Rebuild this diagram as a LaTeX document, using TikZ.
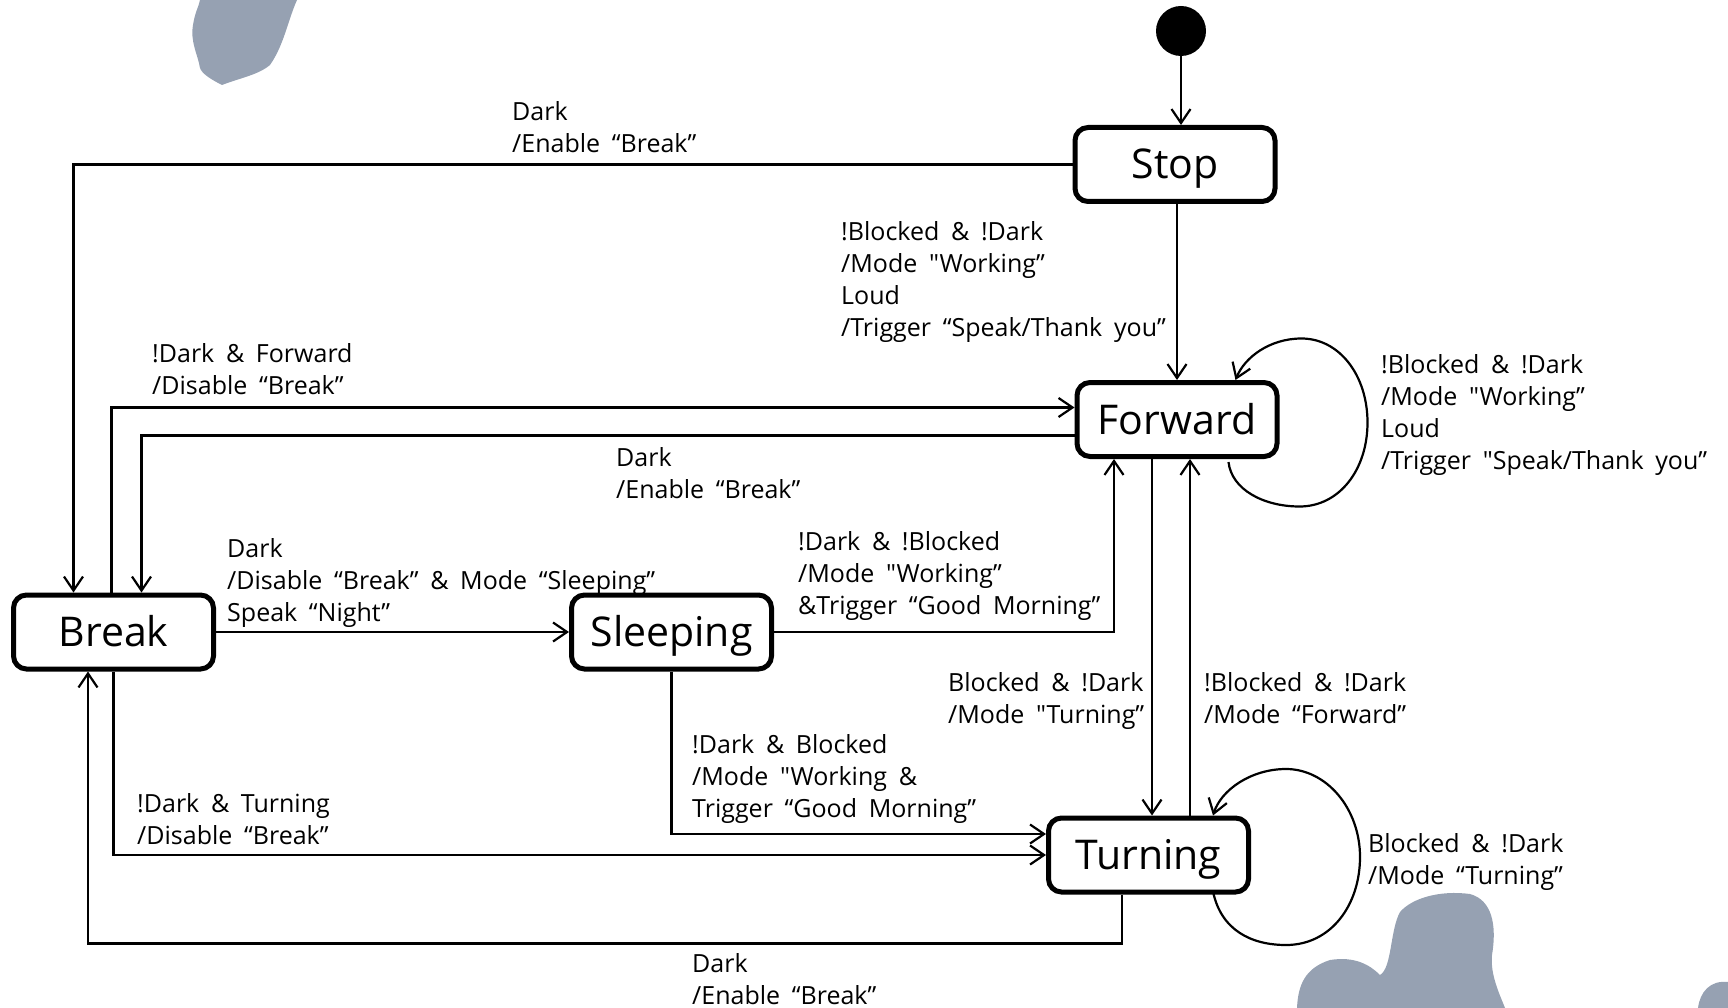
\documentclass[tikz,border=0pt]{standalone}
\usepackage{fontspec}
\setmainfont{Open Sans}[WordSpace=1.8,Ligatures=TeXOff]
\usetikzlibrary{arrows.meta,calc}
\definecolor{blot}{RGB}{150,161,178}
\begin{document}
\begin{tikzpicture}[x=1pt,y=-1pt,
  state/.style={draw,line width=5pt,rounded corners=13pt,minimum width=200pt,
    minimum height=74pt,inner sep=0pt,text height=29pt,text depth=0pt,
    font=\fontsize{41}{48}\selectfont},
  arr/.style={draw,line width=2.2pt,-{Straight Barb[length=14pt,width=19pt]}},
  lbl/.style={anchor=north west,inner sep=0pt,align=left,
    font=\fontsize{25}{32}\selectfont}]
\useasboundingbox (0,0) rectangle (1728,1008);

% ink stains
\fill[blot] (200,0) -- (297,0) .. controls (288,20) and (284,45) .. (270,65)
  .. controls (258,75) and (240,78) .. (222,85) .. controls (212,80) and (202,74) .. (200,68)
  .. controls (198,55) and (190,42) .. (193,25) .. controls (195,12) and (199,6) .. (200,0) -- cycle;
\fill[blot] (1297,1008) .. controls (1298,985) and (1305,968) .. (1330,960)
  .. controls (1355,956) and (1370,965) .. (1380,975) .. controls (1392,968) and (1390,930) .. (1400,912)
  .. controls (1412,898) and (1440,890) .. (1470,894) .. controls (1492,900) and (1497,925) .. (1492,955)
  .. controls (1490,975) and (1500,995) .. (1505,1008) -- cycle;
\fill[blot] (1698,1008) .. controls (1700,992) and (1710,980) .. (1728,982) -- (1728,1008) -- cycle;

% states
\node[circle,fill,inner sep=0pt,minimum size=50pt] (start) at (1181,31) {};
\node[state] (stop) at (1175,164.5) {Stop};
\node[state] (fwd)  at (1177,419.5) {Forward};
\node[state] (brk)  at (113.5,632)  {Break};
\node[state] (slp)  at (671.5,632)  {Sleeping};
\node[state] (trn)  at (1148.5,855) {Turning};

% transitions
\draw[arr] (start) -- (start |- stop.north);
\draw[arr] (stop.west) -| ($(brk.north)+(-40,0)$);
\draw[arr] (fwd.north |- stop.south) -- (fwd.north);
\draw[arr] ($(brk.north)+(-2,0)$) |- ($(fwd.west)+(0,-12)$);
\draw[arr] ($(fwd.west)+(0,16)$) -| ($(brk.north)+(28,0)$);
\draw[arr] (brk.east) -- (slp.west);
\draw[arr] (slp.east) -| ($(fwd.south)+(-63,0)$);
\draw[arr] ($(fwd.south)+(-25,0)$) -- ($(trn.north)+(3.5,0)$);
\draw[arr] ($(trn.north)+(41.5,0)$) -- ($(fwd.south)+(13,0)$);
\draw[arr] (slp.south) |- ($(trn.west)+(0,-21)$);
\draw[arr] (brk.south) |- (trn.west);
\draw[arr] ($(trn.south)+(-26.5,0)$) -- ++(0,49) -| ($(brk.south)+(-25.5,0)$);

% self transitions
\draw[arr] ($(fwd.south east)+(-51,3)$)
  .. controls ($(fwd.east)+(-48,70)$) and ($(fwd.east)+(-16,87)$) .. ($(fwd.east)+(20,87)$)
  .. controls ($(fwd.east)+(60,87)$) and ($(fwd.east)+(88,50)$) .. ($(fwd.east)+(88,3)$)
  .. controls ($(fwd.east)+(88,-44)$) and ($(fwd.east)+(60,-81)$) .. ($(fwd.east)+(22,-81)$)
  .. controls ($(fwd.east)+(-10,-81)$) and ($(fwd.east)+(-35,-62)$) .. ($(fwd.north east)+(-44,0)$);
\draw[arr] ($(trn.south east)+(-38,-3)$)
  .. controls ($(trn.east)+(-30,75)$) and ($(trn.east)+(0,90)$) .. ($(trn.east)+(35,90)$)
  .. controls ($(trn.east)+(80,90)$) and ($(trn.east)+(109,50)$) .. ($(trn.east)+(109,2)$)
  .. controls ($(trn.east)+(109,-47)$) and ($(trn.east)+(75,-86)$) .. ($(trn.east)+(35,-86)$)
  .. controls ($(trn.east)+(0,-86)$) and ($(trn.east)+(-30,-65)$) .. ($(trn.north east)+(-38,0)$);

% guards and actions
\node[lbl] (l1)  at (512,101)  {Dark\\/Enable “Break”};
\node[lbl] (l2)  at (841,221)  {!Blocked \& !Dark\\/Mode "Working”\\Loud\\/Trigger “Speak/Thank you”};
\node[lbl] (l3)  at (1381,354) {!Blocked \& !Dark\\/Mode "Working”\\Loud\\/Trigger "Speak/Thank you”};
\node[lbl] (l4)  at (152,343)  {!Dark \& Forward\\/Disable “Break”};
\node[lbl] (l5)  at (616,447)  {Dark\\/Enable “Break”};
\node[lbl] (l6)  at (227,538)  {Dark\\/Disable “Break” \& Mode “Sleeping”\\Speak “Night”};
\node[lbl] (l7)  at (798,531)  {!Dark \& !Blocked\\/Mode "Working”\\\&Trigger “Good Morning”};
\node[lbl] (l8)  at (948,672)  {Blocked \& !Dark\\/Mode "Turning”};
\node[lbl] (l9)  at (1204,672) {!Blocked \& !Dark\\/Mode “Forward”};
\node[lbl] (l10) at (692,734)  {!Dark \& Blocked\\/Mode "Working \&\\Trigger “Good Morning”};
\node[lbl] (l11) at (137,793)  {!Dark \& Turning\\/Disable “Break”};
\node[lbl] (l12) at (1368,833) {Blocked \& !Dark\\/Mode “Turning”};
\node[lbl] (l13) at (692,953)  {Dark\\/Enable “Break”};
\end{tikzpicture}
\end{document}
